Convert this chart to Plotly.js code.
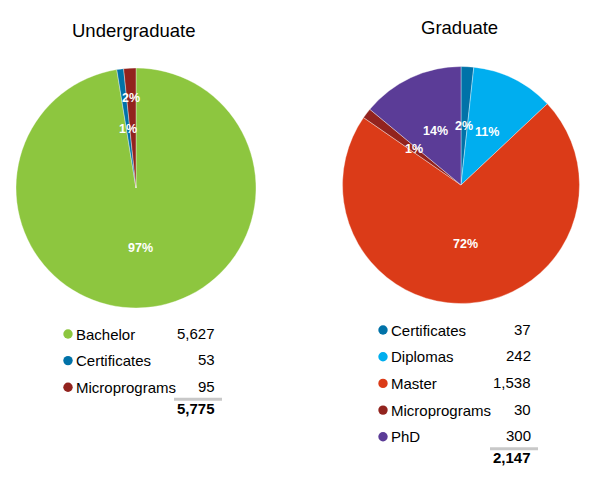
<!DOCTYPE html>
<html>
<head>
<meta charset="utf-8">
<script src="https://cdn.plot.ly/plotly-3.0.1.min.js"></script>
<style>html,body{margin:0;padding:0;background:#fff}</style>
</head>
<body>
<div id="chart" style="width:603px;height:497px"></div>
<script>
const W = 603, H = 497;
const FONT = "Liberation Sans, Arial, sans-serif";

// data
const ugLabels = ["Bachelor", "Certificates", "Microprograms"];
const ugValues = [5627, 53, 95];
const ugColors = ["#8dc63f", "#0072a8", "#92231e"];

const gLabels = ["Certificates", "Diplomas", "Master", "Microprograms", "PhD"];
const gValues = [37, 242, 1538, 30, 300];
const gColors = ["#0072a8", "#00aeef", "#db3b18", "#92231e", "#5b3c97"];

// layout of each panel (pixels)
const panels = [
  {title: "Undergraduate", labels: ugLabels, values: ugValues, colors: ugColors,
   cx: 136, cy: 188, r: 120, titleX: 133, titleY: 31,
   labelR: [0.5, 0.5, 0.75],
   dotX: 68, textX: 74, valueX: 217, rowY: 334, step: 26.6, lineX0: 174, lineX1: 222},
  {title: "Graduate", labels: gLabels, values: gValues, colors: gColors,
   cx: 461, cy: 185, r: 118.5, titleX: 459, titleY: 27,
   labelR: [0.5, 0.5, 0.5, 0.5, 0.5],
   dotX: 383, textX: 389, valueX: 533, rowY: 330, step: 26.7, lineX0: 490, lineX1: 538}
];

const px = x => x / W;
const py = y => 1 - y / H;
const fmt = n => n.toLocaleString("en-US");

const traces = [];
const annotations = [];
const shapes = [];

panels.forEach(p => {
  const total = p.values.reduce((a, b) => a + b, 0);

  traces.push({
    type: "pie",
    labels: p.labels,
    values: p.values,
    sort: false,
    direction: "clockwise",
    rotation: 0,
    textinfo: "none",
    hoverinfo: "label+value+percent",
    marker: {colors: p.colors, line: {color: "rgba(255,255,255,0.6)", width: 0.6}},
    domain: {x: [px(p.cx - p.r), px(p.cx + p.r)], y: [py(p.cy + p.r), py(p.cy - p.r)]},
    showlegend: false
  });

  // title
  annotations.push({
    text: p.title, x: px(p.titleX), y: py(p.titleY), xref: "paper", yref: "paper",
    xanchor: "center", yanchor: "middle", showarrow: false,
    font: {family: FONT, size: 18.5, color: "#000"}
  });

  // percent labels inside slices
  let cum = 0;
  p.values.forEach((v, i) => {
    const a = (cum + v / 2) / total * 2 * Math.PI;
    cum += v;
    const rr = p.r * p.labelR[i];
    annotations.push({
      text: "<b>" + Math.round(v / total * 100) + "%</b>",
      x: px(p.cx + rr * Math.sin(a)), y: py(p.cy - rr * Math.cos(a)),
      xref: "paper", yref: "paper", xanchor: "center", yanchor: "middle",
      showarrow: false, font: {family: FONT, size: 12.5, color: "#fff"}
    });
  });

  // table legend
  p.labels.forEach((lab, i) => {
    const y = p.rowY + i * p.step;
    shapes.push({
      type: "circle", xref: "paper", yref: "paper",
      x0: px(p.dotX - 4.7), x1: px(p.dotX + 4.7), y0: py(y + 4.7), y1: py(y - 4.7),
      fillcolor: p.colors[i], line: {width: 0}
    });
    annotations.push({
      text: lab, x: px(p.textX), y: py(y), xref: "paper", yref: "paper",
      xanchor: "left", yanchor: "middle", showarrow: false,
      font: {family: FONT, size: 15, color: "#000"}
    });
    annotations.push({
      text: fmt(p.values[i]), x: px(p.valueX), y: py(y - 1), xref: "paper", yref: "paper",
      xanchor: "right", yanchor: "middle", showarrow: false,
      font: {family: FONT, size: 15, color: "#000"}
    });
  });

  const lastY = p.rowY + (p.labels.length - 1) * p.step;
  shapes.push({
    type: "line", xref: "paper", yref: "paper",
    x0: px(p.lineX0), x1: px(p.lineX1), y0: py(lastY + 12), y1: py(lastY + 12),
    line: {color: "#c8c8c8", width: 3}
  });
  annotations.push({
    text: "<b>" + fmt(total) + "</b>", x: px(p.valueX), y: py(lastY + 21),
    xref: "paper", yref: "paper", xanchor: "right", yanchor: "middle",
    showarrow: false, font: {family: FONT, size: 15, color: "#000"}
  });
});

Plotly.newPlot("chart", traces, {
  width: W, height: H,
  margin: {l: 0, r: 0, t: 0, b: 0},
  paper_bgcolor: "#fff",
  annotations: annotations,
  shapes: shapes
}, {displayModeBar: false, staticPlot: true});
</script>
</body>
</html>
